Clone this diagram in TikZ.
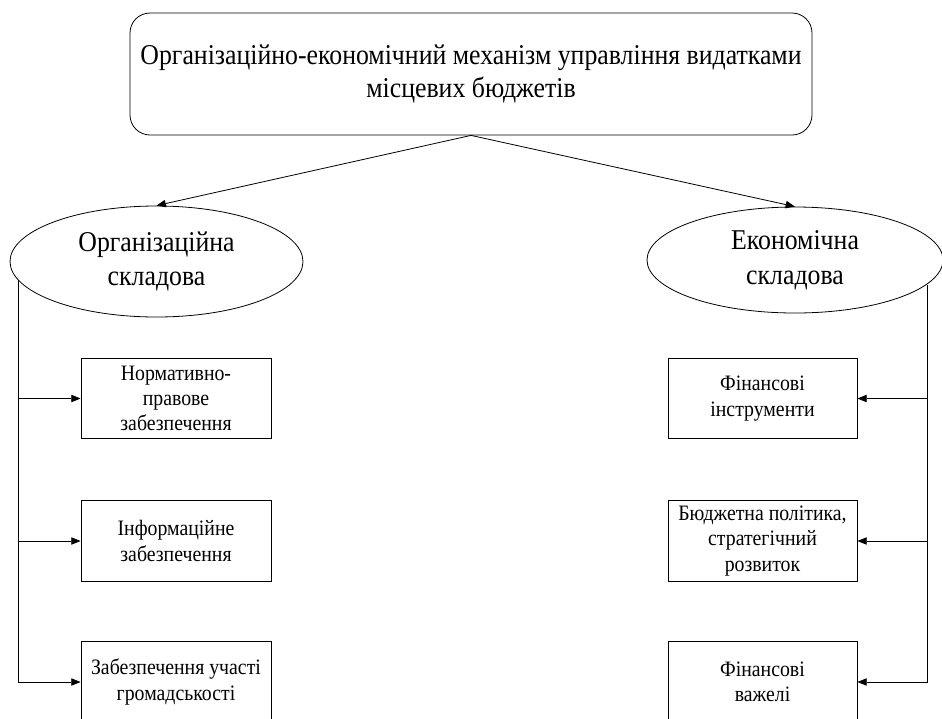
\documentclass[tikz,border=0pt]{standalone}
\usepackage{fontspec}
\setmainfont[FakeStretch=0.9]{Liberation Serif}
\usetikzlibrary{shapes.geometric,arrows.meta}
\begin{document}
\begin{tikzpicture}[x=0.75pt,y=-0.75pt,
  line width=0.6pt,
  headbox/.style={draw,rounded corners=15pt,minimum width=511.5pt,minimum height=91.5pt,
    align=center,inner sep=0pt,font=\fontsize{21.5}{25}\selectfont},
  part/.style={draw,ellipse,inner sep=0pt,align=center,font=\fontsize{21.5}{26}\selectfont},
  itembox/.style={draw,minimum width=142.5pt,minimum height=60.5pt,inner sep=0pt,
    align=center,font=\fontsize{16.5}{19}\selectfont},
  feed/.style={-{Triangle[length=7pt,width=5.5pt]}}]
\clip (0,0) rectangle (942,718);
\fill[white] (0,0) rectangle (942,718);

% root of the tree
\node[headbox] (root) at (471,74)
  {Організаційно-економічний механізм управління видатками\\місцевих бюджетів};

% the two components
\node[part,minimum width=219.75pt,minimum height=83.25pt] (org) at (156.5,261.5)
  {Організаційна\\складова};
\node[part,minimum width=222pt,minimum height=79.5pt] (eco) at (795,260)
  {Економічна\\складова};

\draw[feed] (root.south) -- (org.north);
\draw[feed] (root.south) -- (eco.north);

% organisational elements
\node[itembox] (o1) at (176,398.5) {Нормативно-\\правове\\забезпечення};
\node[itembox] (o2) at (176,541) {Інформаційне\\забезпечення};
\node[itembox] (o3) at (176,682) {Забезпечення участі\\громадськості};

% economic elements
\node[itembox,minimum width=141.75pt] (e1) at (762.5,398.5) {Фінансові\\інструменти};
\node[itembox,minimum width=141.75pt] (e2) at (762.5,541) {Бюджетна політика,\\стратегічний\\розвиток};
\node[itembox,minimum width=141.75pt] (e3) at (762.5,682) {Фінансові\\важелі};

% bus lines leaving the ellipses
\coordinate (lbus) at (18,280);
\coordinate (rbus) at (927,285);

\draw[feed] (lbus) |- (o3.west);
\draw[feed] (lbus |- o1.west) -- (o1.west);
\draw[feed] (lbus |- o2.west) -- (o2.west);

\draw[feed] (rbus) |- (e3.east);
\draw[feed] (rbus |- e1.east) -- (e1.east);
\draw[feed] (rbus |- e2.east) -- (e2.east);
\end{tikzpicture}
\end{document}
